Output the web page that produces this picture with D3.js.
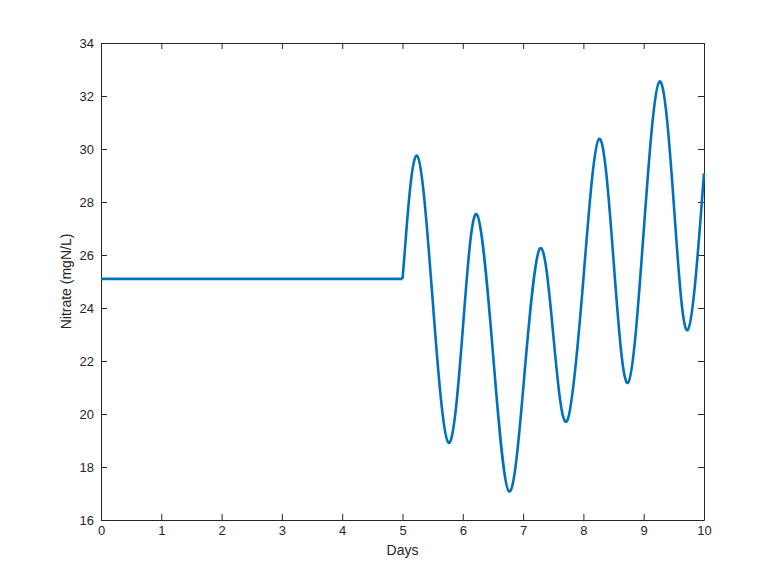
<!DOCTYPE html>
<html>
<head>
<meta charset="utf-8">
<script src="https://cdn.jsdelivr.net/npm/d3@7"></script>
<style>
  body { margin: 0; background: #fff; }
  text { font-family: "Liberation Sans", Arial, Helvetica, sans-serif; fill: #262626; }
  .axis path, .axis line { stroke: #262626; }
</style>
</head>
<body>
<script>
// values
let days    = [0, 5, 5.05, 5.245, 5.5, 5.76, 6.0, 6.23, 6.5, 6.77, 7.03, 7.28, 7.5, 7.73, 8.0, 8.26, 8.5, 8.74, 9.0, 9.26, 9.5, 9.73, 10]
let nitrate = [25.1, 25.1, 26.5, 29.74, 24.3, 18.92, 23.2, 27.54, 22.3, 17.07, 21.7, 26.25, 23.0, 19.74, 25.1, 30.38, 25.8, 21.18, 26.9, 32.54, 27.9, 23.17, 29.08]
let xTicks = [0, 1, 2, 3, 4, 5, 6, 7, 8, 9, 10]
let yTicks = [16, 18, 20, 22, 24, 26, 28, 30, 32, 34]
let pulseStart = 5

let margin = { top: 43, bottom: 64, left: 101, right: 74 }
let width = 778 - margin.left - margin.right
let height = 584 - margin.top - margin.bottom

let points = days.map((d, i) => ({ day: d, value: nitrate[i] }))

let x = d3.scaleLinear().domain([0, 10]).range([0, width])
let y = d3.scaleLinear().domain([16, 34]).range([height, 0])

let svg = d3.select('body')
    .append('svg')
    .attr('width', 778)
    .attr('height', 584)
    .append('g')
    .attr('transform', 'translate(' + margin.left + ',' + margin.top + ')')

//axes, MATLAB style with inward ticks on every side
svg.append('g')
    .attr('class', 'axis')
    .attr('transform', 'translate(0,' + height + ')')
    .call(d3.axisBottom(x).tickValues(xTicks).tickSizeInner(-6).tickSizeOuter(0).tickPadding(6))
svg.append('g')
    .attr('class', 'axis')
    .call(d3.axisLeft(y).tickValues(yTicks).tickSizeInner(-6).tickSizeOuter(0).tickPadding(7))
svg.append('g')
    .attr('class', 'axis')
    .call(d3.axisTop(x).tickValues(xTicks).tickSizeInner(-6).tickSizeOuter(0).tickFormat(''))
svg.append('g')
    .attr('class', 'axis')
    .attr('transform', 'translate(' + width + ',0)')
    .call(d3.axisRight(y).tickValues(yTicks).tickSizeInner(-6).tickSizeOuter(0).tickFormat(''))

svg.selectAll('.axis text')
    .style('font-size', '13px')
    .attr('fill', '#262626')

//flat part, then the oscillation
let line = d3.line().x(d => x(d.day)).y(d => y(d.value))
let flat = points.filter(d => d.day <= pulseStart)
let wave = points.filter(d => d.day >= pulseStart)

svg.append('path')
    .datum(flat)
    .attr('fill', 'none')
    .attr('stroke', '#0072BD')
    .attr('stroke-width', 2.6)
    .attr('d', line)

svg.append('path')
    .datum(wave)
    .attr('fill', 'none')
    .attr('stroke', '#0072BD')
    .attr('stroke-width', 2.6)
    .attr('stroke-linejoin', 'round')
    .attr('d', line.curve(d3.curveNatural))

//labels
svg.append('text')
    .attr('x', width / 2)
    .attr('y', height + 35)
    .attr('text-anchor', 'middle')
    .style('font-size', '14px')
    .text('Days')

svg.append('text')
    .attr('transform', 'translate(-30,' + (height / 2) + ') rotate(-90)')
    .attr('text-anchor', 'middle')
    .style('font-size', '14px')
    .text('Nitrate (mgN/L)')
</script>
</body>
</html>
